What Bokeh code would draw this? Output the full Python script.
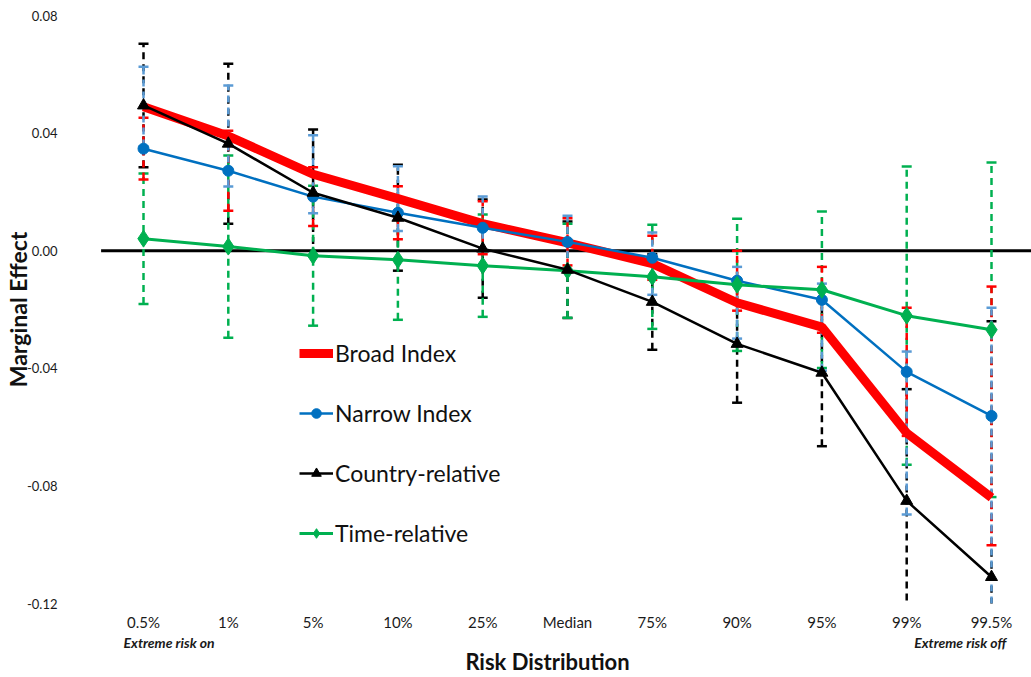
from bokeh.plotting import figure
from bokeh.models import FixedTicker, NumeralTickFormatter, Legend, LegendItem, LinearAxis
from bokeh.embed import file_html
from bokeh.resources import INLINE

categories = ["0.5%", "1%", "5%", "10%", "25%", "Median", "75%", "90%", "95%", "99%", "99.5%"]
broad = [0.049, 0.039, 0.026, 0.0177, 0.0092, 0.0027, -0.0044, -0.0177, -0.026, -0.062, -0.084]
narrow = [0.0347, 0.0272, 0.0184, 0.0129, 0.0078, 0.003, -0.0024, -0.0102, -0.0167, -0.0412, -0.0562]
country = [0.0494, 0.0364, 0.0197, 0.0112, 0.0007, -0.0065, -0.0174, -0.0317, -0.0415, -0.0851, -0.111]
time_rel = [0.0041, 0.0014, -0.0017, -0.0031, -0.0051, -0.0068, -0.0089, -0.0116, -0.0133, -0.0221, -0.0269]

broad_err = [0.0136, 0.0172, 0.0133, 0.011, 0.0092, 0.0092, 0.0106, 0.0122, 0.0148, 0.0277, 0.0646]
narrow_err = [0.0105, 0.0136, 0.010, 0.009, 0.009, 0.008, 0.0075, 0.0102, 0.0112, 0.0218, 0.044]
country_err = [0.021, 0.0272, 0.0215, 0.018, 0.0167, 0.0164, 0.0163, 0.020, 0.025, 0.038, 0.087]
time_err = [0.0222, 0.031, 0.0238, 0.0204, 0.0174, 0.016, 0.0177, 0.0225, 0.0266, 0.0507, 0.0569]

y_ticks = [-0.12, -0.08, -0.04, 0.0, 0.04, 0.08]
extreme_labels = {0.32: "Extreme risk  on", 9.65: "Extreme risk  off"}

FONT = "Lato"
xs = list(range(len(categories)))

FL, FR = 63.0, 1031.0
x0px, step = 143.0, 84.8
p = figure(width=1031, height=677, output_backend="svg", toolbar_location=None,
           x_range=((FL - x0px) / step, (FR - x0px) / step), y_range=(-0.12, 0.08),
           min_border_left=int(FL), min_border_right=0, min_border_top=15, min_border_bottom=71)
p.outline_line_color = None
p.xgrid.visible = False
p.ygrid.visible = False
p.background_fill_color = "white"

xax = p.xaxis[0]
yax = p.yaxis[0]
yax.ticker = FixedTicker(ticks=y_ticks)
yax.formatter = NumeralTickFormatter(format="0.00")
xax.ticker = FixedTicker(ticks=xs)
xax.major_label_overrides = {i: c for i, c in enumerate(categories)}

xax2 = LinearAxis(ticker=FixedTicker(ticks=list(extreme_labels.keys())),
                  major_label_overrides=extreme_labels)
p.add_layout(xax2, "below")

for ax in (xax, yax, xax2):
    ax.axis_line_color = None
    ax.major_tick_line_color = None
    ax.minor_tick_line_color = None
    ax.major_tick_out = 0
    ax.major_tick_in = 0
    ax.minor_tick_out = 0
    ax.minor_tick_in = 0
    ax.major_label_text_font = FONT
    ax.major_label_text_color = "#1a1a1a"
    ax.axis_label_text_font = FONT
    ax.axis_label_text_font_style = "bold"
    ax.axis_label_text_font_size = "22px"
    ax.axis_label_text_color = "#111111"

xax.major_label_text_font_size = "15px"
xax.major_label_standoff = 9
yax.major_label_text_font_size = "13px"
yax.major_label_standoff = 6
yax.axis_label = "Marginal Effect"
yax.axis_label_text_font_size = "23px"
yax.axis_label_standoff = -8
xax2.major_label_text_font_size = "14px"
xax2.major_label_text_font_style = "bold italic"
xax2.major_label_standoff = 0
xax2.axis_label = "Risk Distribution"
xax2.axis_label_standoff = -6

# zero line
p.segment(x0=[-0.5], y0=[0], x1=[len(categories) - 0.4], y1=[0], line_color="black", line_width=3)

# error bars
def errbars(vals, errs, color):
    lo = [v - e for v, e in zip(vals, errs)]
    hi = [v + e for v, e in zip(vals, errs)]
    p.segment(x0=xs, y0=lo, x1=xs, y1=hi, line_color=color, line_width=2.5, line_dash="7 5")
    p.scatter(x=xs + xs, y=lo + hi, marker="dash", size=10, line_color=color, line_width=2.5)

errbars(country, country_err, "black")
errbars(time_rel, time_err, "#00B050")
errbars(narrow, narrow_err, "#FF0000")
errbars(broad, broad_err, "#5B9BD5")

# series
r_broad = p.line(xs, broad, line_color="#FF0000", line_width=9)
r_narrow_l = p.line(xs, narrow, line_color="#0070C0", line_width=2.5)
r_narrow_m = p.scatter(xs, narrow, marker="circle", size=11, fill_color="#0070C0", line_color="#0070C0")
r_time_l = p.line(xs, time_rel, line_color="#00B050", line_width=3)
r_time_m = p.scatter(xs, time_rel, marker="diamond", size=17, fill_color="#00B050", line_color="#00B050")
r_country_l = p.line(xs, country, line_color="black", line_width=2.5)
r_country_m = p.scatter(xs, country, marker="triangle", size=12, fill_color="black", line_color="black")

legend = Legend(items=[
    LegendItem(label="Broad Index", renderers=[r_broad]),
    LegendItem(label="Narrow Index", renderers=[r_narrow_l, r_narrow_m]),
    LegendItem(label="Country-relative", renderers=[r_country_l, r_country_m]),
    LegendItem(label="Time-relative", renderers=[r_time_l, r_time_m]),
], location=(236, 56))
legend.background_fill_alpha = 0
legend.border_line_color = None
legend.padding = 0
legend.margin = 0
legend.spacing = 32
legend.glyph_width = 34
legend.glyph_height = 24
legend.label_height = 24
legend.label_standoff = 2
legend.label_text_font = FONT
legend.label_text_font_size = "23px"
legend.label_text_color = "#111111"
p.add_layout(legend, "center")

open("out.html", "w").write(file_html(p, INLINE))
